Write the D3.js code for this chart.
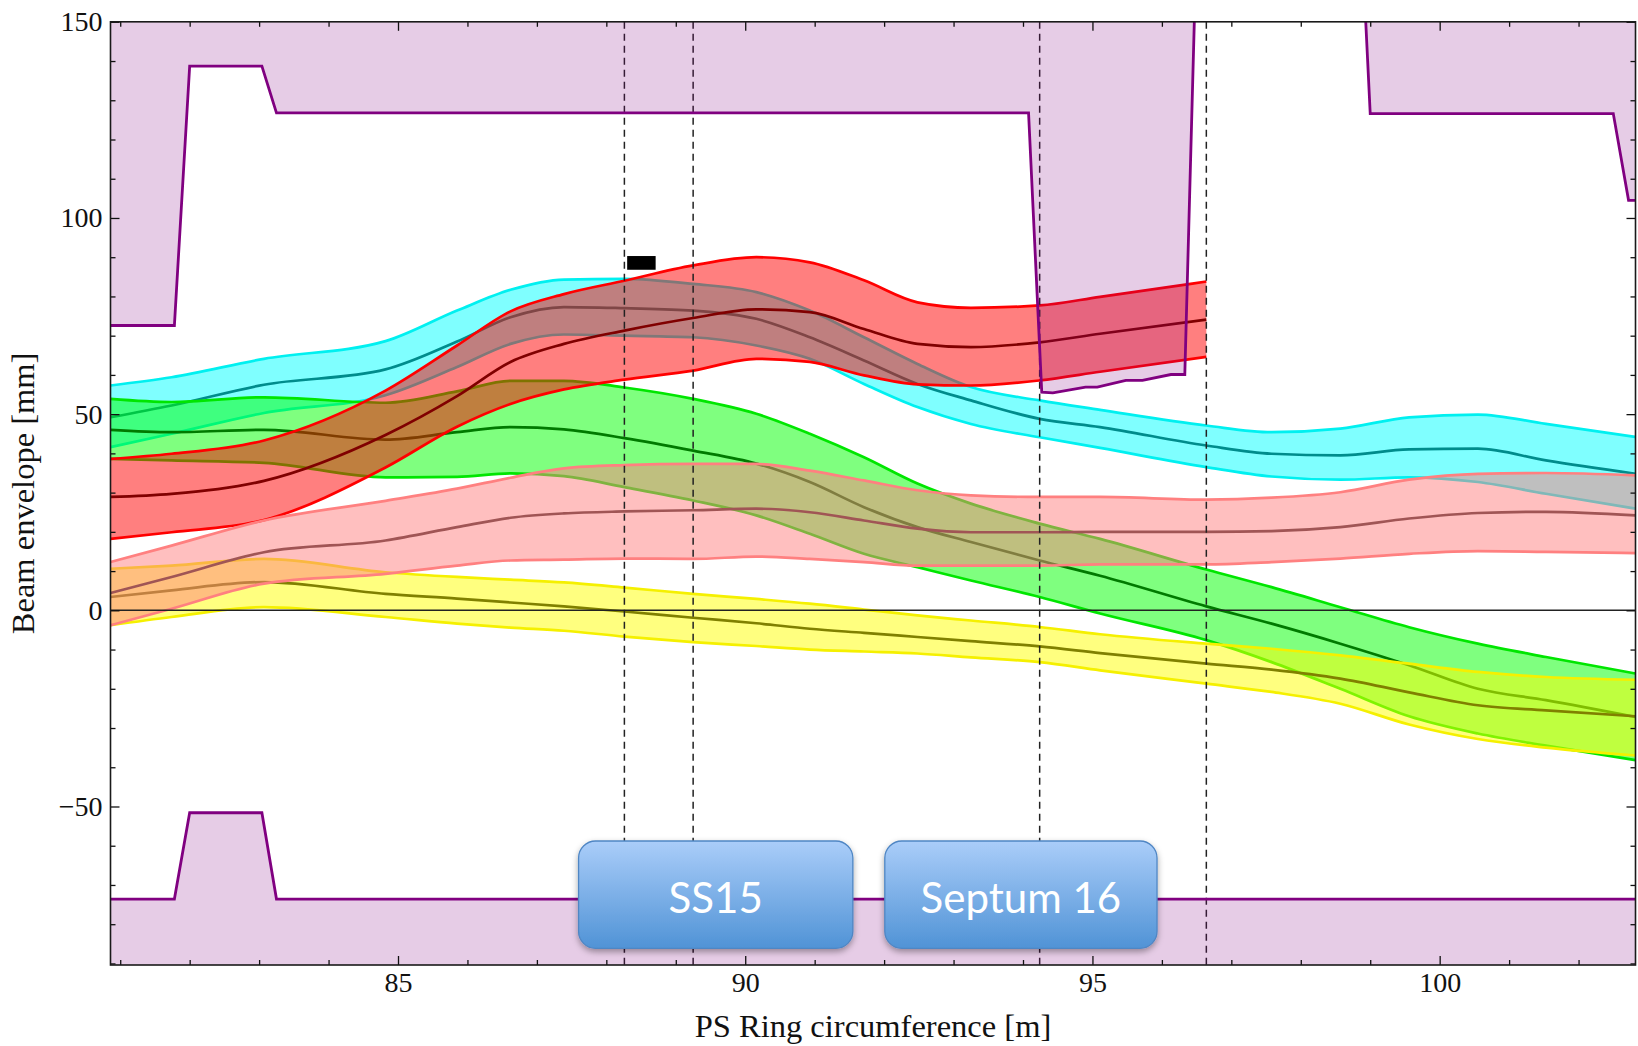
<!DOCTYPE html>
<html>
<head>
<meta charset="utf-8">
<script src="https://cdn.jsdelivr.net/npm/d3@7"></script>
<style>
  html, body { margin: 0; padding: 0; background: #fff; }
  svg { display: block; }
</style>
</head>
<body>
<svg id="chart" width="1638" height="1046"></svg>
<script>
// ---------------- data ----------------
const xs = [80.86, 81.74, 83.07, 84.82, 85.85, 86.62, 87.39, 88.26, 89.25, 90.16, 90.93, 91.71, 92.48, 93.25, 94.24, 95.11, 96.64, 97.58, 98.57, 99.56, 100.55, 101.53, 102.82];

const cyanUpper  = [57.3, 59.4, 64.1, 68.6, 76.4, 81.7, 84.3, 84.5, 83.2, 81.1, 76.4, 69.6, 62.8, 56.9, 53.5, 51.1, 47.1, 45.4, 46.3, 49.2, 49.9, 47.5, 44.2];
const cyanCenter = [49.2, 52.2, 57.5, 61.4, 68.5, 74.7, 77.3, 77.0, 76.4, 74.3, 69.6, 63.7, 57.7, 53.5, 48.8, 46.7, 42.0, 39.9, 39.5, 41.0, 41.2, 38.2, 34.8];
const cyanLower  = [41.6, 45.0, 50.3, 54.8, 62.0, 67.9, 70.3, 70.0, 69.6, 67.5, 64.1, 57.7, 51.8, 47.5, 44.1, 41.4, 36.5, 34.1, 33.3, 33.9, 32.7, 29.7, 25.9];

const greenUpper  = [53.9, 53.1, 54.3, 52.9, 55.8, 58.5, 58.5, 56.8, 53.9, 50.1, 45.0, 39.0, 32.3, 27.2, 22.1, 18.2, 10.4, 5.9, 0.8, -4.3, -8.5, -11.9, -16.1];
const greenCenter = [46.0, 45.4, 46.0, 43.5, 45.4, 46.7, 46.1, 43.9, 40.7, 37.4, 32.7, 26.3, 21.2, 17.4, 12.7, 8.8, 1.0, -3.4, -8.5, -14.0, -20.0, -22.9, -27.2];
const greenLower  = [38.6, 38.2, 37.6, 33.9, 34.0, 34.9, 34.2, 31.4, 28.0, 24.2, 19.5, 14.4, 11.0, 7.6, 3.4, -0.8, -7.6, -13.2, -20.0, -27.0, -31.4, -34.5, -38.2];

const yellowUpper  = [10.6, 11.4, 13.1, 9.7, 8.5, 7.8, 7.1, 5.8, 4.2, 2.9, 1.7, 0.2, -1.3, -2.6, -4.25, -6.1, -8.5, -9.8, -11.5, -13.6, -15.7, -17.0, -17.7];
const yellowCenter = [3.4, 5.1, 7.2, 4.2, 3.0, 2.0, 1.0, -0.3, -1.9, -3.3, -4.7, -5.75, -6.8, -7.85, -9.2, -10.9, -13.6, -15.1, -17.4, -20.9, -24.2, -25.5, -27.0];
const yellowLower  = [-3.8, -1.7, 0.8, -1.7, -3.4, -4.4, -5.2, -6.7, -8.1, -9.1, -10.0, -10.5, -11.0, -12.0, -13.2, -15.3, -18.7, -20.8, -23.8, -29.1, -32.8, -35.0, -37.0];

// red band stops at the fourth dashed line (first 17 grid points)
const redUpper  = [38.6, 39.9, 43.3, 56.0, 67.5, 76.2, 80.6, 84.0, 87.9, 90.0, 88.7, 84.1, 78.5, 77.1, 77.7, 79.9, 83.8];
const redCenter = [28.9, 29.7, 33.0, 44.7, 54.6, 63.3, 67.9, 71.3, 74.5, 76.7, 76.0, 71.7, 67.9, 67.1, 68.3, 70.5, 74.1];
const redLower  = [18.2, 19.9, 23.0, 36.4, 46.8, 52.6, 56.3, 58.8, 61.1, 64.1, 63.3, 59.9, 57.6, 57.3, 58.6, 60.8, 64.6];

const pinkUpper  = [12.3, 16.5, 22.9, 27.9, 31.0, 33.8, 36.2, 37.0, 37.3, 37.3, 35.6, 33.1, 30.6, 29.3, 28.9, 28.9, 28.2, 28.7, 30.1, 33.3, 34.8, 35.0, 34.4];
const pinkCenter = [4.4, 8.5, 14.8, 17.8, 21.2, 23.6, 24.7, 25.2, 25.5, 25.9, 25.0, 22.9, 20.8, 19.9, 19.9, 20.0, 20.0, 20.2, 21.2, 23.4, 24.8, 25.1, 24.2];
const pinkLower  = [-3.8, 0.4, 6.8, 9.3, 11.4, 12.7, 12.9, 13.2, 13.1, 13.7, 13.1, 12.3, 11.4, 11.4, 11.4, 11.7, 11.7, 12.3, 13.2, 14.4, 15.1, 14.9, 14.6];

// aperture (upper values above 150 mean "open", clipped away)
const apUpperX = [80.86, 81.78, 82.0, 83.04, 83.25, 94.08, 94.27, 94.43, 94.9, 95.07, 95.48, 95.72, 96.13, 96.33, 96.47, 98.93, 99.0, 102.5, 102.72, 102.82];
const apUpperY = [72.6, 72.6, 138.7, 138.7, 126.8, 126.8, 55.6, 55.4, 56.9, 56.9, 58.6, 58.6, 60.1, 60.1, 152, 152, 126.6, 126.6, 104.5, 104.5];
const apLowerX = [80.86, 81.78, 82.0, 83.04, 83.25, 102.82];
const apLowerY = [-73.6, -73.6, -51.6, -51.6, -73.6, -73.6];

const dashedX = [88.26, 89.25, 94.24, 96.64];
const markerRect = { x0: 88.3, x1: 88.71, y0: 86.8, y1: 90.3 };

const boxLabels = ["SS15", "Septum 16"];
const boxX0 = [87.6, 92.01];
const boxX1 = [91.55, 95.93];
const boxY0 = -58.8;
const boxY1 = -86.15;

const xTicks = [85, 90, 95, 100];
const yTicks = [-50, 0, 50, 100, 150];
const xMinor = d3.range(81, 103, 1);
const yMinor = d3.range(-90, 151, 10);

const xDomain = [80.86, 102.82];
const yDomain = [-90.4, 150];

// ---------------- layout ----------------
const L = 110.5, R = 1635.5, T = 21.8, B = 965;
const svg = d3.select("#chart");
const x = d3.scaleLinear().domain(xDomain).range([L, R]);
const y = d3.scaleLinear().domain(yDomain).range([B, T]);

const defs = svg.append("defs");
defs.append("clipPath").attr("id", "plotclip")
  .append("rect").attr("x", L).attr("y", T).attr("width", R - L).attr("height", B - T);
const grad = defs.append("linearGradient").attr("id", "boxgrad")
  .attr("x1", 0).attr("y1", 0).attr("x2", 0).attr("y2", 1);
grad.append("stop").attr("offset", "0%").attr("stop-color", "#aacdf9");
grad.append("stop").attr("offset", "100%").attr("stop-color", "#5093d6");
const filt = defs.append("filter").attr("id", "shadow")
  .attr("x", "-10%").attr("y", "-10%").attr("width", "120%").attr("height", "130%");
filt.append("feDropShadow").attr("dx", 0).attr("dy", 3).attr("stdDeviation", 3)
  .attr("flood-color", "#000").attr("flood-opacity", 0.35);

const plot = svg.append("g").attr("clip-path", "url(#plotclip)");

function band(xv, lo, mid, hi, fill, edge, center) {
  const g = plot.append("g");
  const idx = d3.range(lo.length);
  const area = d3.area().curve(d3.curveMonotoneX)
    .x(i => x(xv[i])).y0(i => y(lo[i])).y1(i => y(hi[i]));
  const line = arr => d3.line().curve(d3.curveMonotoneX)
    .x(i => x(xv[i])).y(i => y(arr[i]));
  g.append("path").attr("d", area(idx)).attr("fill", fill).attr("fill-opacity", 0.5);
  g.append("path").attr("d", line(hi)(idx)).attr("fill", "none").attr("stroke", edge).attr("stroke-width", 2.7);
  g.append("path").attr("d", line(lo)(idx)).attr("fill", "none").attr("stroke", edge).attr("stroke-width", 2.7);
  g.append("path").attr("d", line(mid)(idx)).attr("fill", "none").attr("stroke", center).attr("stroke-width", 2.7);
}

band(xs, cyanLower, cyanCenter, cyanUpper, "#00ffff", "#00f0f0", "#008c8c");
band(xs, greenLower, greenCenter, greenUpper, "#00ff00", "#00e600", "#007a00");
band(xs, yellowLower, yellowCenter, yellowUpper, "#ffff00", "#f5f000", "#808000");
band(xs.slice(0, redUpper.length), redLower, redCenter, redUpper, "#ff0000", "#ff0000", "#800000");
band(xs, pinkLower, pinkCenter, pinkUpper, "#ff8080", "#ff8080", "#a05555");

// zero line
plot.append("line").attr("x1", L).attr("x2", R).attr("y1", y(0)).attr("y2", y(0))
  .attr("stroke", "#222").attr("stroke-width", 1.6);

// dashed lines
plot.selectAll("line.dash").data(dashedX).join("line").attr("class", "dash")
  .attr("x1", d => x(d)).attr("x2", d => x(d)).attr("y1", T).attr("y2", B)
  .attr("stroke", "#222").attr("stroke-width", 1.5).attr("stroke-dasharray", "7,5");

// aperture
const apIdxU = d3.range(apUpperX.length);
const apIdxL = d3.range(apLowerX.length);
plot.append("path")
  .attr("d", d3.area().x(i => x(apUpperX[i])).y0(y(yDomain[1]) - 40).y1(i => y(apUpperY[i]))(apIdxU))
  .attr("fill", "#800080").attr("fill-opacity", 0.2);
plot.append("path")
  .attr("d", d3.line().x(i => x(apUpperX[i])).y(i => y(apUpperY[i]))(apIdxU))
  .attr("fill", "none").attr("stroke", "#800080").attr("stroke-width", 2.8).attr("stroke-linejoin", "miter");
plot.append("path")
  .attr("d", d3.area().x(i => x(apLowerX[i])).y0(y(yDomain[0]) + 40).y1(i => y(apLowerY[i]))(apIdxL))
  .attr("fill", "#800080").attr("fill-opacity", 0.2);
plot.append("path")
  .attr("d", d3.line().x(i => x(apLowerX[i])).y(i => y(apLowerY[i]))(apIdxL))
  .attr("fill", "none").attr("stroke", "#800080").attr("stroke-width", 2.8);

// marker rectangle
plot.append("rect")
  .attr("x", x(markerRect.x0)).attr("y", y(markerRect.y1))
  .attr("width", x(markerRect.x1) - x(markerRect.x0))
  .attr("height", y(markerRect.y0) - y(markerRect.y1))
  .attr("fill", "#000");

// axes (ticks inward, frame)
const tickFont = "'Liberation Serif', 'Times New Roman', serif";
function styleAxis(g, size) {
  g.select(".domain").remove();
  g.selectAll(".tick line").attr("stroke", "#111").attr("stroke-width", 1.3);
  g.selectAll("text").attr("font-family", tickFont).attr("font-size", size).attr("fill", "#111");
}
const fmt = d => d < 0 ? "\u2212" + Math.abs(d) : String(d);
svg.append("g").attr("transform", `translate(0,${B})`)
  .call(d3.axisBottom(x).tickValues(xTicks).tickSize(-9).tickPadding(7).tickFormat(fmt))
  .call(g => styleAxis(g, 28));
svg.append("g").attr("transform", `translate(0,${B})`)
  .call(d3.axisBottom(x).tickValues(xMinor.filter(v => !xTicks.includes(v))).tickSize(-5).tickFormat(""))
  .call(g => styleAxis(g, 28));
svg.append("g").attr("transform", `translate(0,${T})`)
  .call(d3.axisTop(x).tickValues(xTicks).tickSize(-9).tickFormat(""))
  .call(g => styleAxis(g, 28));
svg.append("g").attr("transform", `translate(0,${T})`)
  .call(d3.axisTop(x).tickValues(xMinor.filter(v => !xTicks.includes(v))).tickSize(-5).tickFormat(""))
  .call(g => styleAxis(g, 28));
svg.append("g").attr("transform", `translate(${L},0)`)
  .call(d3.axisLeft(y).tickValues(yTicks).tickSize(-9).tickPadding(8).tickFormat(fmt))
  .call(g => styleAxis(g, 28));
svg.append("g").attr("transform", `translate(${L},0)`)
  .call(d3.axisLeft(y).tickValues(yMinor.filter(v => !yTicks.includes(v))).tickSize(-5).tickFormat(""))
  .call(g => styleAxis(g, 28));
svg.append("g").attr("transform", `translate(${R},0)`)
  .call(d3.axisRight(y).tickValues(yTicks).tickSize(-9).tickFormat(""))
  .call(g => styleAxis(g, 28));
svg.append("g").attr("transform", `translate(${R},0)`)
  .call(d3.axisRight(y).tickValues(yMinor.filter(v => !yTicks.includes(v))).tickSize(-5).tickFormat(""))
  .call(g => styleAxis(g, 28));

svg.append("rect").attr("x", L).attr("y", T).attr("width", R - L).attr("height", B - T)
  .attr("fill", "none").attr("stroke", "#1a1a1a").attr("stroke-width", 1.6);

// element boxes
const boxes = svg.append("g");
boxLabels.forEach((lab, i) => {
  const bx = x(boxX0[i]), bw = x(boxX1[i]) - x(boxX0[i]);
  const by = y(boxY0), bh = y(boxY1) - y(boxY0);
  boxes.append("rect").attr("x", bx).attr("y", by).attr("width", bw).attr("height", bh)
    .attr("rx", 17).attr("ry", 17)
    .attr("fill", "url(#boxgrad)").attr("stroke", "#4f86c4").attr("stroke-width", 1.3)
    .attr("filter", "url(#shadow)");
  boxes.append("text").attr("x", bx + bw / 2).attr("y", by + bh / 2 + 18)
    .attr("text-anchor", "middle").attr("font-family", "Lato, 'Open Sans', sans-serif")
    .attr("font-size", 42).attr("fill", "#ffffff").text(lab);
});

// axis titles
svg.append("text").attr("x", (L + R) / 2).attr("y", 1037)
  .attr("text-anchor", "middle").attr("font-family", tickFont).attr("font-size", 32.5)
  .attr("fill", "#111").text("PS Ring circumference [m]");
svg.append("text").attr("transform", `translate(34,${(T + B) / 2}) rotate(-90)`)
  .attr("text-anchor", "middle").attr("font-family", tickFont).attr("font-size", 32.5)
  .attr("fill", "#111").text("Beam envelope [mm]");
</script>
</body>
</html>
